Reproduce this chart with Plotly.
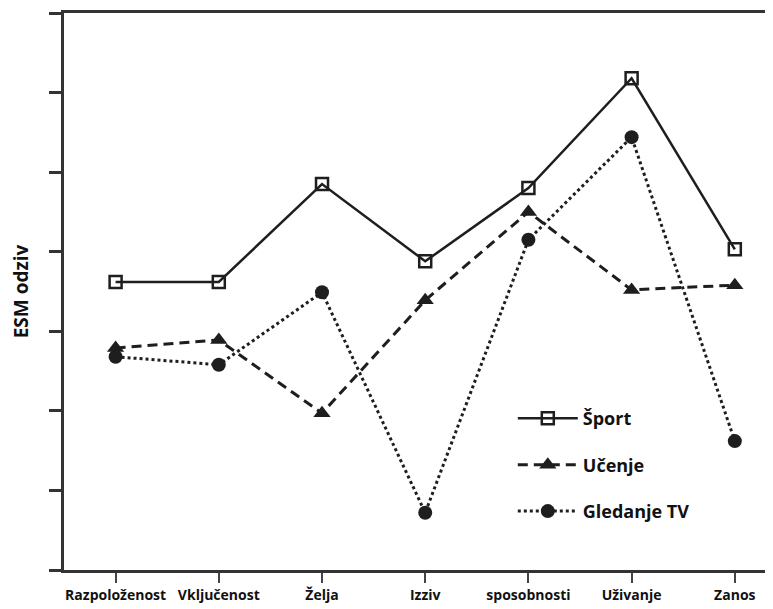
import plotly.graph_objects as go

categories = ["Razpoloženost", "Vključenost", "Želja", "Izziv", "sposobnosti", "Uživanje", "Zanos"]
sport = [3.62, 3.62, 4.85, 3.88, 4.80, 6.18, 4.03]
ucenje = [2.79, 2.89, 1.97, 3.39, 4.50, 3.52, 3.58]
tv = [2.68, 2.58, 3.49, 0.72, 4.15, 5.44, 1.62]
series_names = ["Šport", "Učenje", "Gledanje TV"]

ink = "#1e1e1e"
fig = go.Figure()
fig.add_trace(go.Scatter(
    x=categories, y=sport, name=series_names[0], mode="lines+markers",
    line=dict(color=ink, width=2.5, dash="solid"),
    marker=dict(symbol="square-open", size=12, color=ink, line=dict(width=2.5, color=ink)),
    legendgroup="a"))
fig.add_trace(go.Scatter(
    x=categories, y=ucenje, name=series_names[1], mode="lines+markers",
    line=dict(color=ink, width=3, dash="10px,6px"),
    marker=dict(symbol="triangle-up", size=15, color=ink),
    legendgroup="b"))
fig.add_trace(go.Scatter(
    x=categories, y=tv, name=series_names[2], mode="lines+markers",
    line=dict(color=ink, width=3, dash="dot"),
    marker=dict(symbol="circle", size=14, color=ink),
    legendgroup="c"))

fig.update_layout(
    width=765, height=601,
    margin=dict(l=56, r=0, t=5, b=39),
    paper_bgcolor="white", plot_bgcolor="white",
    font=dict(family="Open Sans, Noto Sans, sans-serif", color="#111"),
    showlegend=True,
    legend=dict(x=0.633, y=0.305, xanchor="left", yanchor="top",
                bgcolor="rgba(0,0,0,0)", font=dict(size=18, color="#111", weight="bold"),
                tracegroupgap=20, traceorder="grouped", itemwidth=60),
    xaxis=dict(type="category", range=[-0.5, 6.37], showgrid=False, zeroline=False,
               showline=True, linecolor="#333", linewidth=3, mirror=True,
               ticks="outside", ticklen=10, tickwidth=2, tickcolor="#444",
               tickfont=dict(size=14, color="#111", weight="bold")),
    yaxis=dict(range=[0, 7], tickvals=[0, 1, 2, 3, 4, 5, 6, 7], showticklabels=False,
               showgrid=False, zeroline=False, showline=True, linecolor="#333", linewidth=3,
               ticks="outside", ticklen=12, tickwidth=3, tickcolor="#333",
               title=dict(text="ESM odziv", font=dict(size=19, color="#111", weight="bold"), standoff=18)),
)

fig.write_html("out.html")
